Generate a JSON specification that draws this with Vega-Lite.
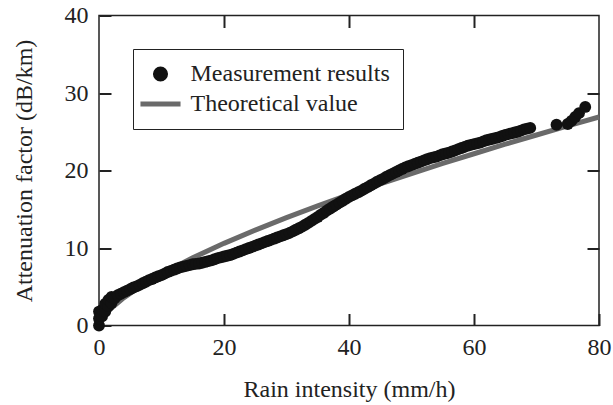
{
  "$schema": "https://vega.github.io/schema/vega-lite/v6.json",
  "width": 500,
  "height": 310,
  "autosize": "none",
  "padding": {"left": 99, "top": 15.5, "right": 14, "bottom": 79.5},
  "config": {
    "font": "Liberation Serif",
    "view": {"stroke": "#222", "strokeWidth": 1.5}
  },
  "datasets": {
    "theory": [
      {"R": 0, "A": 0}, {"R": 0.2, "A": 0.48}, {"R": 0.5, "A": 0.89}, {"R": 1, "A": 1.42},
      {"R": 2, "A": 2.25}, {"R": 4, "A": 3.59}, {"R": 6, "A": 4.72}, {"R": 8, "A": 5.72},
      {"R": 10, "A": 6.65}, {"R": 15, "A": 8.73}, {"R": 20, "A": 10.6}, {"R": 25, "A": 12.31},
      {"R": 30, "A": 13.91}, {"R": 35, "A": 15.43}, {"R": 40, "A": 16.88}, {"R": 45, "A": 18.27},
      {"R": 50, "A": 19.61}, {"R": 55, "A": 20.91}, {"R": 60, "A": 22.16}, {"R": 65, "A": 23.39},
      {"R": 70, "A": 24.58}, {"R": 75, "A": 25.75}, {"R": 80, "A": 26.9}
    ],
    "meas": [
      {"R": 0, "A": 0, "series": "Measurement results"},
      {"R": 0, "A": 0.9, "series": "Measurement results"},
      {"R": 0, "A": 1.8, "series": "Measurement results"},
      {"R": 0.3, "A": 1.6, "series": "Measurement results"},
      {"R": 0.5, "A": 1.2, "series": "Measurement results"},
      {"R": 0.5, "A": 2.0, "series": "Measurement results"},
      {"R": 1, "A": 1.8, "series": "Measurement results"},
      {"R": 1, "A": 2.8, "series": "Measurement results"},
      {"R": 1.5, "A": 2.5, "series": "Measurement results"},
      {"R": 1.5, "A": 3.3, "series": "Measurement results"},
      {"R": 2, "A": 2.9, "series": "Measurement results"},
      {"R": 2, "A": 3.7, "series": "Measurement results"},
      {"R": 2.5, "A": 3.5, "series": "Measurement results"},
      {"R": 3, "A": 3.9, "series": "Measurement results"},
      {"R": 3.5, "A": 4.1, "series": "Measurement results"},
      {"R": 4, "A": 4.3, "series": "Measurement results"},
      {"R": 4.5, "A": 4.5, "series": "Measurement results"},
      {"R": 5, "A": 4.7, "series": "Measurement results"},
      {"R": 5.5, "A": 4.9, "series": "Measurement results"},
      {"R": 6, "A": 5.05, "series": "Measurement results"},
      {"R": 6.5, "A": 5.25, "series": "Measurement results"},
      {"R": 7, "A": 5.45, "series": "Measurement results"},
      {"R": 7.5, "A": 5.65, "series": "Measurement results"},
      {"R": 8, "A": 5.85, "series": "Measurement results"},
      {"R": 8.5, "A": 6.0, "series": "Measurement results"},
      {"R": 9, "A": 6.2, "series": "Measurement results"},
      {"R": 9.5, "A": 6.35, "series": "Measurement results"},
      {"R": 10, "A": 6.5, "series": "Measurement results"},
      {"R": 10.5, "A": 6.7, "series": "Measurement results"},
      {"R": 11, "A": 6.9, "series": "Measurement results"},
      {"R": 11.5, "A": 7.05, "series": "Measurement results"},
      {"R": 12, "A": 7.2, "series": "Measurement results"},
      {"R": 12.5, "A": 7.35, "series": "Measurement results"},
      {"R": 13, "A": 7.5, "series": "Measurement results"},
      {"R": 13.5, "A": 7.6, "series": "Measurement results"},
      {"R": 14, "A": 7.7, "series": "Measurement results"},
      {"R": 14.5, "A": 7.8, "series": "Measurement results"},
      {"R": 15, "A": 7.9, "series": "Measurement results"},
      {"R": 15.5, "A": 7.95, "series": "Measurement results"},
      {"R": 16, "A": 8.0, "series": "Measurement results"},
      {"R": 16.5, "A": 8.1, "series": "Measurement results"},
      {"R": 17, "A": 8.2, "series": "Measurement results"},
      {"R": 17.5, "A": 8.3, "series": "Measurement results"},
      {"R": 18, "A": 8.4, "series": "Measurement results"},
      {"R": 18.5, "A": 8.55, "series": "Measurement results"},
      {"R": 19, "A": 8.7, "series": "Measurement results"},
      {"R": 19.5, "A": 8.8, "series": "Measurement results"},
      {"R": 20, "A": 8.9, "series": "Measurement results"},
      {"R": 20.5, "A": 9.0, "series": "Measurement results"},
      {"R": 21, "A": 9.1, "series": "Measurement results"},
      {"R": 21.5, "A": 9.25, "series": "Measurement results"},
      {"R": 22, "A": 9.4, "series": "Measurement results"},
      {"R": 22.5, "A": 9.55, "series": "Measurement results"},
      {"R": 23, "A": 9.7, "series": "Measurement results"},
      {"R": 23.5, "A": 9.85, "series": "Measurement results"},
      {"R": 24, "A": 10.0, "series": "Measurement results"},
      {"R": 24.5, "A": 10.15, "series": "Measurement results"},
      {"R": 25, "A": 10.3, "series": "Measurement results"},
      {"R": 25.5, "A": 10.45, "series": "Measurement results"},
      {"R": 26, "A": 10.6, "series": "Measurement results"},
      {"R": 26.5, "A": 10.75, "series": "Measurement results"},
      {"R": 27, "A": 10.9, "series": "Measurement results"},
      {"R": 27.5, "A": 11.05, "series": "Measurement results"},
      {"R": 28, "A": 11.2, "series": "Measurement results"},
      {"R": 28.5, "A": 11.35, "series": "Measurement results"},
      {"R": 29, "A": 11.5, "series": "Measurement results"},
      {"R": 29.5, "A": 11.65, "series": "Measurement results"},
      {"R": 30, "A": 11.8, "series": "Measurement results"},
      {"R": 30.5, "A": 11.95, "series": "Measurement results"},
      {"R": 31, "A": 12.15, "series": "Measurement results"},
      {"R": 31.5, "A": 12.35, "series": "Measurement results"},
      {"R": 32, "A": 12.55, "series": "Measurement results"},
      {"R": 32.5, "A": 12.75, "series": "Measurement results"},
      {"R": 33, "A": 13.0, "series": "Measurement results"},
      {"R": 33.5, "A": 13.25, "series": "Measurement results"},
      {"R": 34, "A": 13.5, "series": "Measurement results"},
      {"R": 34.5, "A": 13.75, "series": "Measurement results"},
      {"R": 35, "A": 14.0, "series": "Measurement results"},
      {"R": 35.5, "A": 14.3, "series": "Measurement results"},
      {"R": 36, "A": 14.55, "series": "Measurement results"},
      {"R": 36.5, "A": 14.85, "series": "Measurement results"},
      {"R": 37, "A": 15.1, "series": "Measurement results"},
      {"R": 37.5, "A": 15.35, "series": "Measurement results"},
      {"R": 38, "A": 15.6, "series": "Measurement results"},
      {"R": 38.5, "A": 15.85, "series": "Measurement results"},
      {"R": 39, "A": 16.1, "series": "Measurement results"},
      {"R": 39.5, "A": 16.35, "series": "Measurement results"},
      {"R": 40, "A": 16.6, "series": "Measurement results"},
      {"R": 40.5, "A": 16.8, "series": "Measurement results"},
      {"R": 41, "A": 17.0, "series": "Measurement results"},
      {"R": 41.5, "A": 17.2, "series": "Measurement results"},
      {"R": 42, "A": 17.4, "series": "Measurement results"},
      {"R": 42.5, "A": 17.65, "series": "Measurement results"},
      {"R": 43, "A": 17.85, "series": "Measurement results"},
      {"R": 43.5, "A": 18.1, "series": "Measurement results"},
      {"R": 44, "A": 18.3, "series": "Measurement results"},
      {"R": 44.5, "A": 18.55, "series": "Measurement results"},
      {"R": 45, "A": 18.75, "series": "Measurement results"},
      {"R": 45.5, "A": 18.95, "series": "Measurement results"},
      {"R": 46, "A": 19.2, "series": "Measurement results"},
      {"R": 46.5, "A": 19.4, "series": "Measurement results"},
      {"R": 47, "A": 19.6, "series": "Measurement results"},
      {"R": 47.5, "A": 19.8, "series": "Measurement results"},
      {"R": 48, "A": 20.0, "series": "Measurement results"},
      {"R": 48.5, "A": 20.2, "series": "Measurement results"},
      {"R": 49, "A": 20.4, "series": "Measurement results"},
      {"R": 49.5, "A": 20.55, "series": "Measurement results"},
      {"R": 50, "A": 20.7, "series": "Measurement results"},
      {"R": 50.5, "A": 20.85, "series": "Measurement results"},
      {"R": 51, "A": 21.0, "series": "Measurement results"},
      {"R": 51.5, "A": 21.15, "series": "Measurement results"},
      {"R": 52, "A": 21.3, "series": "Measurement results"},
      {"R": 52.5, "A": 21.45, "series": "Measurement results"},
      {"R": 53, "A": 21.6, "series": "Measurement results"},
      {"R": 53.5, "A": 21.7, "series": "Measurement results"},
      {"R": 54, "A": 21.8, "series": "Measurement results"},
      {"R": 54.5, "A": 21.95, "series": "Measurement results"},
      {"R": 55, "A": 22.1, "series": "Measurement results"},
      {"R": 55.5, "A": 22.2, "series": "Measurement results"},
      {"R": 56, "A": 22.3, "series": "Measurement results"},
      {"R": 56.5, "A": 22.45, "series": "Measurement results"},
      {"R": 57, "A": 22.6, "series": "Measurement results"},
      {"R": 57.5, "A": 22.75, "series": "Measurement results"},
      {"R": 58, "A": 22.9, "series": "Measurement results"},
      {"R": 58.5, "A": 23.05, "series": "Measurement results"},
      {"R": 59, "A": 23.2, "series": "Measurement results"},
      {"R": 59.5, "A": 23.3, "series": "Measurement results"},
      {"R": 60, "A": 23.4, "series": "Measurement results"},
      {"R": 60.5, "A": 23.5, "series": "Measurement results"},
      {"R": 61, "A": 23.6, "series": "Measurement results"},
      {"R": 61.5, "A": 23.75, "series": "Measurement results"},
      {"R": 62, "A": 23.9, "series": "Measurement results"},
      {"R": 62.5, "A": 24.0, "series": "Measurement results"},
      {"R": 63, "A": 24.1, "series": "Measurement results"},
      {"R": 63.5, "A": 24.2, "series": "Measurement results"},
      {"R": 64, "A": 24.3, "series": "Measurement results"},
      {"R": 64.5, "A": 24.45, "series": "Measurement results"},
      {"R": 65, "A": 24.6, "series": "Measurement results"},
      {"R": 65.5, "A": 24.7, "series": "Measurement results"},
      {"R": 66, "A": 24.8, "series": "Measurement results"},
      {"R": 66.5, "A": 24.9, "series": "Measurement results"},
      {"R": 67, "A": 25.0, "series": "Measurement results"},
      {"R": 67.5, "A": 25.15, "series": "Measurement results"},
      {"R": 68, "A": 25.3, "series": "Measurement results"},
      {"R": 68.5, "A": 25.4, "series": "Measurement results"},
      {"R": 69, "A": 25.5, "series": "Measurement results"},
      {"R": 73.2, "A": 25.9, "series": "Measurement results"},
      {"R": 75, "A": 26.0, "series": "Measurement results"},
      {"R": 75.6, "A": 26.4, "series": "Measurement results"},
      {"R": 76.2, "A": 26.9, "series": "Measurement results"},
      {"R": 76.8, "A": 27.4, "series": "Measurement results"},
      {"R": 77.8, "A": 28.2, "series": "Measurement results"}
    ]
  },
  "layer": [
    {
      "data": {"name": "theory"},
      "mark": {"type": "line", "color": "#6a6a6a", "strokeWidth": 5},
      "encoding": {
        "x": {"field": "R", "type": "quantitative", "scale": {"domain": [0, 80], "nice": false},
              "axis": {"orient": "top", "labels": false, "title": null, "values": [20, 40, 60], "domain": false, "grid": false,
                       "ticks": true, "tickSize": -12, "tickColor": "#222222", "tickWidth": 2}},
        "y": {"field": "A", "type": "quantitative", "scale": {"domain": [0, 40], "nice": false},
              "axis": {"orient": "right", "labels": false, "title": null, "values": [10, 20, 30], "domain": false, "grid": false,
                       "ticks": true, "tickSize": -12, "tickColor": "#222222", "tickWidth": 2}}
      }
    },
    {
      "data": {"name": "meas"},
      "mark": {"type": "point", "filled": true, "opacity": 1, "size": 140},
      "encoding": {
        "x": {"field": "R", "type": "quantitative", "scale": {"domain": [0, 80], "nice": false},
              "axis": {"orient": "bottom", "values": [0, 20, 40, 60, 80], "title": "Rain intensity (mm/h)", "labelPadding": 22, "titlePadding": 18,
                       "grid": false, "labelFlush": false, "domain": false,
                       "labelFont": "Liberation Serif", "labelFontSize": 24, "labelColor": "#222",
                       "titleFont": "Liberation Serif", "titleFontSize": 24, "titleFontWeight": "normal", "titleColor": "#222",
                       "ticks": true, "tickSize": -12, "tickColor": "#222222", "tickWidth": 2}},
        "y": {"field": "A", "type": "quantitative", "scale": {"domain": [0, 40], "nice": false},
              "axis": {"orient": "left", "values": [0, 10, 20, 30, 40], "title": "Attenuation factor (dB/km)", "labelPadding": 23, "titlePadding": 28,
                       "grid": false, "labelFlush": false, "domain": false,
                       "labelFont": "Liberation Serif", "labelFontSize": 24, "labelColor": "#222",
                       "titleFont": "Liberation Serif", "titleFontSize": 24, "titleFontWeight": "normal", "titleColor": "#222",
                       "ticks": true, "tickSize": -12, "tickColor": "#222222", "tickWidth": 2}},
        "color": {"field": "series", "type": "nominal",
                  "scale": {"domain": ["Measurement results", "Theoretical value"], "range": ["#111111", "#6a6a6a"]},
                  "legend": {"title": null, "orient": "none", "legendX": 34, "legendY": 33.5, "strokeColor": "#222", "fillColor": "white", "padding": 13,
                             "symbolSize": 227, "symbolOffset": 2.5, "labelOffset": 18, "labelFontSize": 24, "labelFont": "Liberation Serif",
                             "labelColor": "#222", "rowPadding": 6, "symbolStrokeWidth": 0, "labelLimit": 400}},
        "shape": {"field": "series", "type": "nominal",
                  "scale": {"domain": ["Measurement results", "Theoretical value"], "range": ["circle", "M-2.66,-0.33H2.66V0.33H-2.66Z"]},
                  "legend": {"title": null, "orient": "none", "legendX": 34, "legendY": 33.5, "strokeColor": "#222", "fillColor": "white", "padding": 13,
                             "symbolSize": 227, "symbolOffset": 2.5, "labelOffset": 18, "labelFontSize": 24, "labelFont": "Liberation Serif",
                             "labelColor": "#222", "rowPadding": 6, "symbolStrokeWidth": 0, "labelLimit": 400}}
      }
    }
  ],
  "resolve": {"axis": {"x": "independent", "y": "independent"}}
}
